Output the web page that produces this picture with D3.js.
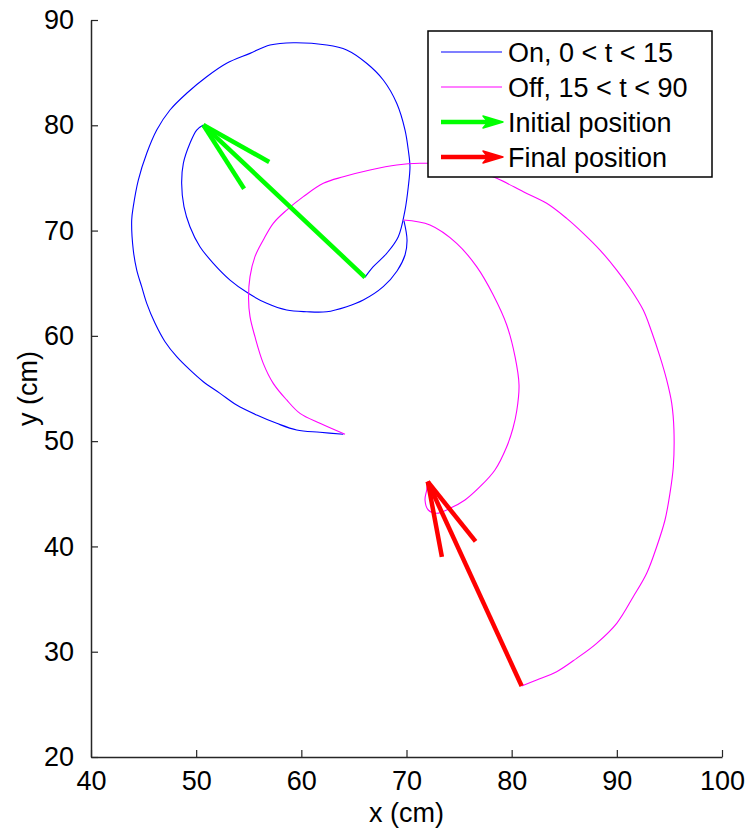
<!DOCTYPE html>
<html>
<head>
<meta charset="utf-8">
<script src="https://cdn.jsdelivr.net/npm/d3@7"></script>
<style>
  body { margin: 0; background: #fff; }
  svg { display: block; font-family: "Liberation Sans", Arial, Helvetica, sans-serif; }
</style>
</head>
<body>
<div id="chart"></div>
<script>
// trajectory pieces, [x, y] in cm
// head + tail during stimulation (On, 0 < t < 15)
const onHead = [
  [50.68,80.02],[50.05,79.55],[49.41,78.29],[48.78,76.39],[48.62,74.49],[48.84,72.27],
  [49.41,70.37],[50.36,68.47],[51.63,66.89],[53.22,65.30],[54.96,64.04],[56.71,63.09],
  [58.61,62.45],[60.51,62.29],[62.41,62.29],[64.31,62.77],[65.89,63.40],[67.79,64.67],
  [69.10,66.16],[69.86,67.68],[70.05,69.10],[69.76,70.91]
];
const onTail = [
  [66.05,65.56],[66.84,66.57],[68.12,67.84],[69.22,69.42],[69.86,71.95],[70.17,74.16],
  [70.33,76.06],[70.17,77.65],[69.86,79.55],[69.07,82.09],[67.79,84.30],[66.21,85.89],
  [64.31,87.15],[62.41,87.62],[59.24,87.84],[57.02,87.62],[55.12,86.83],[52.90,85.89],
  [51.00,84.61],[49.10,83.04],[47.51,81.45],[46.25,79.55],[45.30,77.34],[44.50,74.80],
  [44.02,72.27],[43.87,71.00],[44.02,68.15],[44.35,66.25],[44.82,64.67],[45.30,63.09],
  [46.09,61.19],[47.04,59.44],[48.15,58.02],[49.41,56.76],[50.68,55.64],[52.27,54.54],
  [53.85,53.43],[55.76,52.48],[57.66,51.69],[59.56,51.06],[61.77,50.84],[63.99,50.65]
];
// head + tail after stimulation (Off, 15 < t < 90)
const offHead = [
  [69.70,71.00],[72.23,70.53],[74.77,68.79],[76.67,66.57],[78.25,63.88],[79.53,61.03],
  [80.32,58.02],[80.70,55.33],[80.48,52.86],[80.13,51.25],[79.53,49.47],[78.41,47.26],
  [76.99,45.67],[75.56,44.41],[74.14,43.62],[72.87,43.15],[72.07,43.46],[71.76,44.41],
  [71.92,45.36],[72.02,46.15]
];
const offTail = [
  [64.15,50.65],[61.77,51.69],[59.87,52.64],[58.61,53.91],[57.33,55.49],[56.38,57.39],
  [55.59,59.92],[55.12,61.82],[54.98,63.59],[55.12,65.62],[55.59,67.52],[56.38,69.10],
  [57.33,70.69],[58.61,71.95],[60.19,73.22],[62.09,74.49],[63.99,75.11],[66.53,75.75],
  [69.07,76.23],[71.28,76.39],[73.66,76.32],[76.04,75.85],[78.58,74.96],[81.11,73.69],
  [83.33,72.59],[85.23,71.16],[86.81,69.74],[88.40,68.15],[89.99,66.25],[91.25,64.52],
  [92.51,62.45],[93.31,60.39],[94.10,58.02],[94.74,55.81],[95.22,53.59],[95.43,51.06],
  [95.37,47.57],[95.05,45.04],[94.58,42.51],[93.79,39.97],[92.84,37.45],[91.56,35.22],
  [89.99,32.70],[88.08,30.80],[86.18,29.37],[84.28,28.10],[82.38,27.31],[80.95,26.74]
];

// body orientation arrows: tail -> head
const initialArrow = { from: [66.05,65.56], to: [50.68,80.02] };
const finalArrow = { from: [80.95,26.74], to: [72.02,46.15] };

const xTicks = [40,50,60,70,80,90,100];
const yTicks = [20,30,40,50,60,70,80,90];
const legendLabels = ['On, 0 < t < 15', 'Off, 15 < t < 90', 'Initial position', 'Final position'];

const BLUE = '#0000ff', MAGENTA = '#ff00ff', GREEN = '#00ff00', RED = '#ff0000';

var margin = {top: 20, right: 30, bottom: 75, left: 91};
var fullWidth = 752, fullHeight = 832;
var width = fullWidth - margin.left - margin.right;
var height = fullHeight - margin.top - margin.bottom;

var xScale = d3.scaleLinear().domain([40,100]).range([0, width]);
var yScale = d3.scaleLinear().domain([20,90]).range([height, 0]);

var svg = d3.select('#chart')
  .append('svg')
  .attr('width', fullWidth)
  .attr('height', fullHeight)
  .append('g')
  .attr('transform', `translate(${margin.left},${margin.top})`);

var line = d3.line()
  .x(d => xScale(d[0]))
  .y(d => yScale(d[1]));

var smoothLine = d3.line()
  .x(d => xScale(d[0]))
  .y(d => yScale(d[1]))
  .curve(d3.curveCatmullRom.alpha(0.5));

// data
var paths = [
  {pts: onHead, color: BLUE},
  {pts: onTail, color: BLUE},
  {pts: offHead, color: MAGENTA},
  {pts: offTail, color: MAGENTA}
];
svg.append('g').selectAll('path')
  .data(paths)
  .join('path')
  .attr('d', d => smoothLine(d.pts))
  .attr('fill', 'none')
  .attr('stroke', d => d.color)
  .attr('stroke-width', 1.1)
  .attr('stroke-linejoin', 'round');

// quiver style arrow (alpha 0.33 back, narrow barbs)
var quiverLines = (a) => {
  let u = a.to[0] - a.from[0], v = a.to[1] - a.from[1];
  let bx = a.to[0] - 0.33*u, by = a.to[1] - 0.33*v;
  let k = 0.0825;
  return [
    [a.from, a.to],
    [a.to, [bx + k*v, by - k*u]],
    [a.to, [bx - k*v, by + k*u]]
  ];
};
[[initialArrow, GREEN], [finalArrow, RED]].forEach(([a, c]) => {
  svg.append('g').selectAll('path')
    .data(quiverLines(a))
    .join('path')
    .attr('d', line)
    .attr('fill', 'none')
    .attr('stroke', c)
    .attr('stroke-width', 4.5)
    .attr('stroke-linecap', 'butt');
});

// axes (MATLAB style, box off, ticks inside)
var xAxis = d3.axisBottom(xScale).tickValues(xTicks).tickSizeInner(-7).tickSizeOuter(0).tickPadding(14);
var yAxis = d3.axisLeft(yScale).tickValues(yTicks).tickSizeInner(-7).tickSizeOuter(0).tickPadding(17);

var gx = svg.append('g')
  .attr('transform', `translate(0,${height})`)
  .call(xAxis);
var gy = svg.append('g').call(yAxis);

[gx, gy].forEach(g => {
  g.select('.domain').attr('stroke', '#262626').attr('stroke-width', 1.5);
  g.selectAll('.tick line').attr('stroke', '#262626').attr('stroke-width', 1.2);
  g.selectAll('.tick text')
    .attr('fill', '#000')
    .style('font-size', '27px')
    .style('font-family', '"Liberation Sans", Arial, sans-serif');
});
gx.selectAll('.tick text').attr('dy', '0.71em');

svg.append('text')
  .attr('x', width / 2)
  .attr('y', height + 65)
  .attr('text-anchor', 'middle')
  .style('font-size', '27px')
  .text('x (cm)');

svg.append('text')
  .attr('transform', `translate(${-54},${height/2}) rotate(-90)`)
  .attr('text-anchor', 'middle')
  .style('font-size', '27px')
  .text('y (cm)');

// legend
var lg = svg.append('g').attr('transform', `translate(${428 - margin.left},${31 - margin.top})`);
lg.append('rect')
  .attr('width', 284)
  .attr('height', 146)
  .attr('fill', '#fff')
  .attr('stroke', '#000')
  .attr('stroke-width', 1.5);

var legendItems = [
  {label: legendLabels[0], color: BLUE, kind: 'line'},
  {label: legendLabels[1], color: MAGENTA, kind: 'line'},
  {label: legendLabels[2], color: GREEN, kind: 'arrow'},
  {label: legendLabels[3], color: RED, kind: 'arrow'}
];
var rowY = d3.scalePoint().domain(d3.range(legendItems.length)).range([21, 126]);

var rows = lg.selectAll('g.item')
  .data(legendItems)
  .join('g')
  .attr('class', 'item')
  .attr('transform', (d, i) => `translate(0,${rowY(i)})`);

rows.filter(d => d.kind === 'line').append('line')
  .attr('x1', 13).attr('x2', 74)
  .attr('stroke', d => d.color)
  .attr('stroke-width', 1.2);

var arrowRows = rows.filter(d => d.kind === 'arrow');
arrowRows.append('line')
  .attr('x1', 13).attr('x2', 64)
  .attr('stroke', d => d.color)
  .attr('stroke-width', 4.5);
arrowRows.append('path')
  .attr('d', 'M75,0 L55,-6 L60,0 L55,6 Z')
  .attr('fill', d => d.color)
  .attr('stroke', d => d.color)
  .attr('stroke-width', 1.5)
  .attr('stroke-linejoin', 'round');

rows.append('text')
  .attr('x', 80)
  .attr('y', 10)
  .style('font-size', '27px')
  .text(d => d.label);
</script>
</body>
</html>
